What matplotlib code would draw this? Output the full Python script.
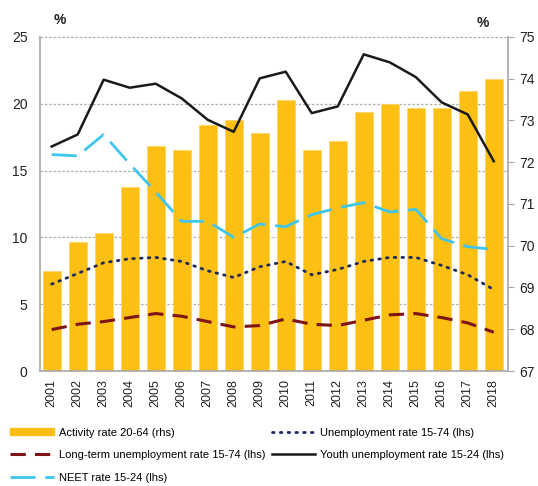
import matplotlib.pyplot as plt
from matplotlib import transforms
from matplotlib.lines import Line2D
from matplotlib.patches import Patch

plt.rcParams['font.family'] = ['Liberation Sans', 'DejaVu Sans']

years = [str(y) for y in range(2001, 2019)]
activity = [69.4, 70.1, 70.3, 71.4, 72.4, 72.3, 72.9, 73.0, 72.7,
            73.5, 72.3, 72.5, 73.2, 73.4, 73.3, 73.3, 73.7, 74.0]
unemployment = [6.5, 7.3, 8.1, 8.4, 8.5, 8.2, 7.5, 7.0, 7.8,
                8.2, 7.2, 7.6, 8.2, 8.5, 8.5, 7.9, 7.2, 6.1]
long_term = [3.1, 3.5, 3.7, 4.0, 4.3, 4.1, 3.7, 3.3, 3.4,
             3.9, 3.5, 3.4, 3.8, 4.2, 4.3, 4.0, 3.6, 2.9]
youth = [16.8, 17.7, 21.8, 21.2, 21.5, 20.4, 18.8, 17.9, 21.9,
         22.4, 19.3, 19.8, 23.7, 23.1, 22.0, 20.1, 19.2, 15.7]
neet = [16.2, 16.1, 17.7, 15.5, 13.4, 11.2, 11.2, 10.0, 11.0,
        10.8, 11.7, 12.2, 12.6, 11.9, 12.1, 9.9, 9.3, 9.1]
lhs_ticks = [0, 5, 10, 15, 20, 25]
rhs_ticks = [67, 68, 69, 70, 71, 72, 73, 74, 75]

bar_col = '#FCBF14'
spine_col = '#A6A6A6'
dot_style = (0, (0.6, 2.2))
lt_style = (0, (5, 3))
neet_style = (0, (9, 3.5))

fig = plt.figure(figsize=(5.38, 4.86), dpi=100)
ax1 = fig.add_axes([0.0743, 0.2366, 0.87, 0.6874])
ax2 = ax1.twinx()

x = list(range(len(years)))

# bars on the right axis, drawn underneath
ax2.bar(x, [a - rhs_ticks[0] for a in activity], bottom=rhs_ticks[0], width=0.68,
        color=bar_col, edgecolor='#FDD56A', linewidth=0.6, zorder=2)
ax2.set_ylim(rhs_ticks[0], rhs_ticks[-1])
ax2.set_yticks(rhs_ticks)

# grid lines follow the left axis ticks but sit behind the bars
trans = transforms.blended_transform_factory(ax2.transAxes, ax1.transData)
for v in lhs_ticks[1:]:
    ax2.plot([0, 1], [v, v], transform=trans, color='#AFAFAF', lw=0.9,
             ls=(0, (2, 1.5)), zorder=1, clip_on=False)

ax1.set_zorder(ax2.get_zorder() + 1)
ax1.patch.set_visible(False)
ax1.plot(x, unemployment, color='#1F2A5C', lw=2, ls=dot_style,
         dash_capstyle='round', zorder=3)
ax1.plot(x, long_term, color='#7F1416', lw=2.2, ls=lt_style, zorder=3)
ax1.plot(x, youth, color='#1A1A1A', lw=1.8, zorder=3)
ax1.plot(x, neet, color='#3FC6EE', lw=2, ls=neet_style, zorder=3)

ax1.set_ylim(lhs_ticks[0], lhs_ticks[-1])
ax1.set_yticks(lhs_ticks)
ax1.set_xlim(-0.45, len(years) - 0.45)
ax1.set_xticks(x)
ax1.set_xticklabels(years, rotation=90, fontsize=9)

for a in (ax1, ax2):
    for s in a.spines.values():
        s.set_color(spine_col)
        s.set_linewidth(1.2)
    a.spines['top'].set_visible(False)
ax1.spines['right'].set_visible(False)
ax2.spines['left'].set_visible(False)
ax2.spines['bottom'].set_visible(False)

ax1.tick_params(axis='y', length=0, labelsize=10, pad=9, colors='#222222')
ax1.tick_params(axis='x', length=0, pad=6, colors='#222222')
ax2.tick_params(axis='y', length=4, color=spine_col, labelsize=10, pad=4,
                labelcolor='#222222')

fig.text(0.112, 0.958, '%', fontsize=10, fontweight='bold', ha='center', va='center', color='#222222')
fig.text(0.898, 0.953, '%', fontsize=10, fontweight='bold', ha='center', va='center', color='#222222')

handles = [
    Patch(color=bar_col),
    Line2D([], [], color='#7F1416', lw=2.2, ls=lt_style),
    Line2D([], [], color='#3FC6EE', lw=2, ls=neet_style),
    Line2D([], [], color='#1F2A5C', lw=2, ls=dot_style, dash_capstyle='round'),
    Line2D([], [], color='#1A1A1A', lw=1.8),
]
labels = ['Activity rate 20-64 (rhs)',
          'Long-term unemployment rate 15-74 (lhs)',
          'NEET rate 15-24 (lhs)',
          'Unemployment rate 15-74 (lhs)',
          'Youth unemployment rate 15-24 (lhs)']
fig.legend(handles, labels, loc='upper left', bbox_to_anchor=(0.019, 0.120),
           ncol=2, frameon=False, fontsize=8, handlelength=3.9, handleheight=0.6,
           handletextpad=0.45, labelspacing=1.12, columnspacing=0.6, borderpad=0,
           borderaxespad=0)

fig.savefig('out.png', dpi=100)
